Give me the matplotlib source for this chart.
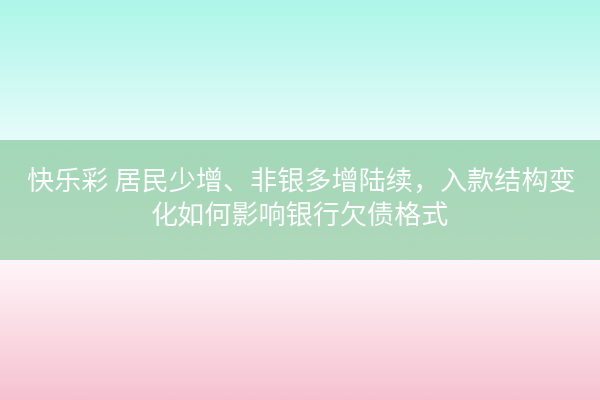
import numpy as np
import matplotlib.pyplot as plt

plt.rcParams['font.family'] = ['Noto Sans CJK SC', 'DejaVu Sans']

linha1 = '快乐彩 居民少增、非银多增陆续，入款结构变'
linha2 = '化如何影响银行欠债格式'

# cores das faixas (topo, meio, baixo)
cor_topo = ['#adf6e9', '#e6fcfa']
cor_meio = ['#a2d8b8', '#b0d8bb']
cor_baixo = ['#fff5f8', '#f6c2d2']

def gradiente(ax, c1, c2, y0, y1):
    a = np.array(plt.matplotlib.colors.to_rgb(c1))
    b = np.array(plt.matplotlib.colors.to_rgb(c2))
    t = np.linspace(0, 1, 100)[:, None]
    img = (a + (b - a) * t)[:, None, :]
    ax.imshow(img, extent=[0, 600, y1, y0], aspect='auto', interpolation='bilinear')

fig = plt.figure(figsize=(6, 4), dpi=100)
ax = fig.add_axes([0, 0, 1, 1])
gradiente(ax, cor_topo[0], cor_topo[1], 0, 140)
gradiente(ax, cor_meio[0], cor_meio[1], 140, 260)
gradiente(ax, cor_baixo[0], cor_baixo[1], 260, 400)
ax.set_xlim(0, 600)
ax.set_ylim(400, 0)
ax.axis('off')

ax.text(301, 182, linha1, ha='center', va='center', color='white', fontsize=19.5, fontweight='light')
ax.text(300, 217, linha2, ha='center', va='center', color='white', fontsize=19.5, fontweight='light')

plt.savefig('out.png', dpi=100)
